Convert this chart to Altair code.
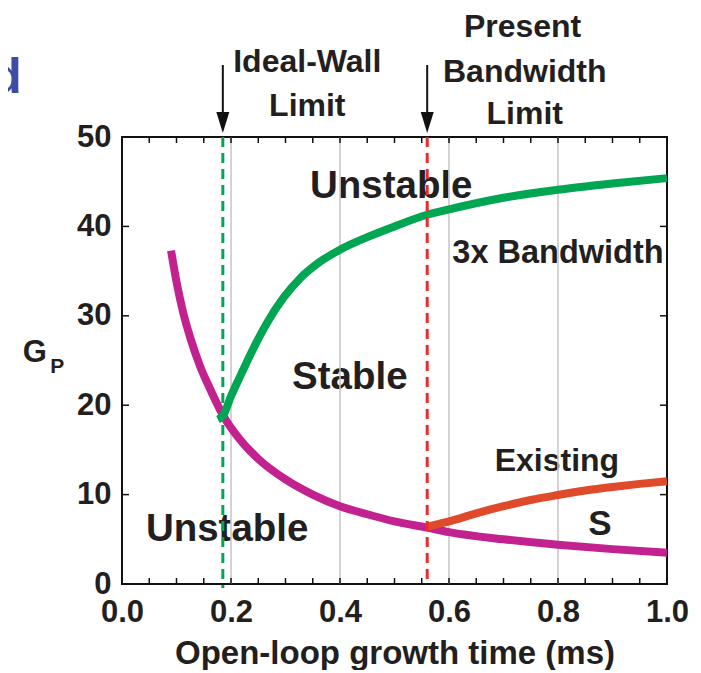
import altair as alt
import pandas as pd

# ---------------- data ----------------
mag_x = [0.09, 0.10, 0.1125, 0.125, 0.143, 0.161, 0.186, 0.216, 0.25, 0.30, 0.35, 0.40,
         0.45, 0.50, 0.56, 0.60, 0.70, 0.80, 0.90, 1.00]
mag_y = [37.3, 33.8, 30.3, 27.6, 24.4, 21.9, 18.8, 16.2, 14.0, 11.7, 10.0, 8.7,
         7.8, 7.0, 6.3, 5.8, 5.0, 4.4, 3.9, 3.5]

grn_x = [0.176, 0.186, 0.20, 0.215, 0.235, 0.266, 0.296, 0.327, 0.36, 0.40, 0.45, 0.50,
         0.56, 0.60, 0.70, 0.80, 0.90, 1.00]
grn_y = [18.4, 18.9, 21.0, 23.0, 25.6, 29.2, 32.0, 34.2, 35.9, 37.4, 38.8, 40.0,
         41.3, 41.9, 43.2, 44.1, 44.8, 45.4]

org_x = [0.56, 0.60, 0.65, 0.70, 0.75, 0.80, 0.85, 0.90, 0.95, 1.00]
org_y = [6.4, 7.0, 7.9, 8.7, 9.4, 9.95, 10.45, 10.85, 11.2, 11.5]

limit_names = ["Ideal-Wall", "Present Bandwidth"]
limit_x = [0.185, 0.56]

grid_x = [0.2, 0.4, 0.6, 0.8]
x_minor = [0.0, 0.05, 0.1, 0.15, 0.2, 0.25, 0.3, 0.35, 0.4, 0.45, 0.5,
           0.55, 0.6, 0.65, 0.7, 0.75, 0.8, 0.85, 0.9, 0.95, 1.0]
x_labels = [0.0, 0.2, 0.4, 0.6, 0.8, 1.0]
y_labels = [0, 10, 20, 30, 40, 50]

region_text = ["Unstable", "Stable", "Unstable", "3x Bandwidth", "Existing", "S"]
region_x = [0.494, 0.418, 0.193, 0.800, 0.798, 0.877]
region_y = [43.2, 21.8, 4.8, 35.9, 12.6, 5.5]
region_fs = [38.5, 38.5, 38.5, 32.5, 32, 35]

top_text = ["Ideal-Wall", "Limit", "Present", "Bandwidth", "Limit"]
top_x = [0.340, 0.340, 0.735, 0.739, 0.739]
top_y = [57.3, 52.35, 61.15, 56.2, 51.5]

# ---------------- styling ----------------
FONT = "Liberation Sans, Arial, Helvetica, sans-serif"
INK = "#231f20"
W, H = 545, 447
xs = alt.Scale(domain=[0, 1], nice=False, zero=False)
ys = alt.Scale(domain=[0, 50], nice=False, zero=False)


def X(f, **kw):
    return alt.X(f, type="quantitative", scale=xs, **kw)


def Y(f, **kw):
    return alt.Y(f, type="quantitative", scale=ys, **kw)


curves = pd.concat([
    pd.DataFrame({"x": mag_x, "y": mag_y, "s": "magenta"}),
    pd.DataFrame({"x": grn_x, "y": grn_y, "s": "green"}),
    pd.DataFrame({"x": org_x, "y": org_y, "s": "orange"}),
])
limits = pd.DataFrame({"x": limit_x, "name": limit_names})
grid = pd.DataFrame({"x": grid_x})
xt = pd.DataFrame({"x": x_minor})
yt = pd.DataFrame({"y": y_labels})
regions = pd.DataFrame({"t": region_text, "x": region_x, "y": region_y, "fs": region_fs})
tops = pd.DataFrame({"t": top_text, "x": top_x, "y": top_y})
gp = pd.DataFrame({"t": ["G", "P"], "x": [-0.160, -0.119], "y": [24.87, 23.57], "fs": [31, 21]})
dd = pd.DataFrame({"t": ["d"], "x": [-0.184], "y": [54.9]})

axis_x = alt.Axis(values=x_labels, format=".1f", labelFont=FONT, labelFontSize=31,
                  labelFontWeight="bold", labelColor=INK, labelPadding=13, ticks=False,
                  tickSize=0, domain=False, grid=False, title="Open-loop growth time (ms)",
                  titleFont=FONT, titleFontSize=33, titleFontWeight="bold", titleColor=INK,
                  titlePadding=10, labelFlush=False)
axis_y = alt.Axis(values=y_labels, labelFont=FONT, labelFontSize=31, labelFontWeight="bold",
                  labelColor=INK, labelPadding=11, ticks=False, tickSize=0, domain=False,
                  grid=False, title=None)

text_layer = alt.Chart(regions).mark_text(font=FONT, fontWeight="bold", color=INK,
                                          align="center", baseline="alphabetic").encode(
    x=X("x"), y=Y("y"), text="t:N", size=alt.Size("fs:Q", scale=None))

top_layer = alt.Chart(tops).mark_text(font=FONT, fontWeight="bold", color=INK, fontSize=32,
                                      align="center", baseline="alphabetic").encode(
    x=X("x"), y=Y("y"), text="t:N")

gp_layer = alt.Chart(gp).mark_text(font=FONT, fontWeight="bold", color=INK,
                                   align="center", baseline="alphabetic").encode(
    x=X("x"), y=Y("y"), text="t:N", size=alt.Size("fs:Q", scale=None))

d_layer = alt.Chart(dd).mark_text(font=FONT, fontWeight="bold", color="#3d4da6", fontSize=50,
                                  align="right", baseline="alphabetic").encode(
    x=X("x"), y=Y("y"), text="t:N")

grid_layer = alt.Chart(grid).mark_rule(color="#c4c4c4", strokeWidth=1.5).encode(
    x=X("x"), y=alt.value(0), y2=alt.value(H))

curve_layer = alt.Chart(curves).mark_line(strokeWidth=8, interpolate="monotone",
                                          strokeCap="butt", clip=False).encode(
    x=X("x", axis=axis_x), y=Y("y", axis=axis_y),
    color=alt.Color("s:N", scale=alt.Scale(domain=["magenta", "green", "orange"],
                                           range=["#c2228f", "#00a651", "#de4a2a"]),
                    legend=None),
    detail="s:N")

dash_green = alt.Chart(limits).transform_filter(
    alt.datum.name == limit_names[0]
).mark_rule(strokeWidth=3, strokeDash=[10, 6], color="#00a651").encode(
    x=X("x"), y=alt.value(0), y2=alt.value(H + 4))
dash_red = alt.Chart(limits).transform_filter(
    alt.datum.name == limit_names[1]
).mark_rule(strokeWidth=3, strokeDash=[10, 6], color="#ee2a2a").encode(
    x=X("x"), y=alt.value(0), y2=alt.value(H + 1))

arrow_line = alt.Chart(limits).mark_rule(color="#111111", strokeWidth=2).encode(
    x=X("x"), y=alt.value(-72), y2=alt.value(-22))
arrow_head = alt.Chart(limits).mark_point(shape="M-0.62,-1L0.62,-1L0,1Z", size=441,
                                          filled=True, color="#111111", opacity=1).encode(
    x=X("x"), y=alt.value(-14.5))

tick_style = dict(color="#111111", strokeWidth=1.5)
t_bottom = alt.Chart(xt).mark_rule(**tick_style).encode(x=X("x"), y=alt.value(H), y2=alt.value(H - 6))
t_top = alt.Chart(xt).mark_rule(**tick_style).encode(x=X("x"), y=alt.value(0), y2=alt.value(6))
t_left = alt.Chart(yt).mark_rule(**tick_style).encode(y=Y("y"), x=alt.value(0), x2=alt.value(7))
t_right = alt.Chart(yt).mark_rule(**tick_style).encode(y=Y("y"), x=alt.value(W), x2=alt.value(W - 7))

chart = alt.layer(
    text_layer, top_layer, gp_layer, d_layer, grid_layer, curve_layer, dash_green, dash_red,
    arrow_line, arrow_head, t_bottom, t_top, t_left, t_right
).properties(
    width=W, height=H,
    autosize=alt.AutoSizeParams(type="none"),
    padding={"left": 114, "top": 129, "right": 24, "bottom": 86},
    background="white",
).configure_view(stroke="#111111", strokeWidth=2)

chart.save("out.html", embed_options={"renderer": "svg", "actions": False})
